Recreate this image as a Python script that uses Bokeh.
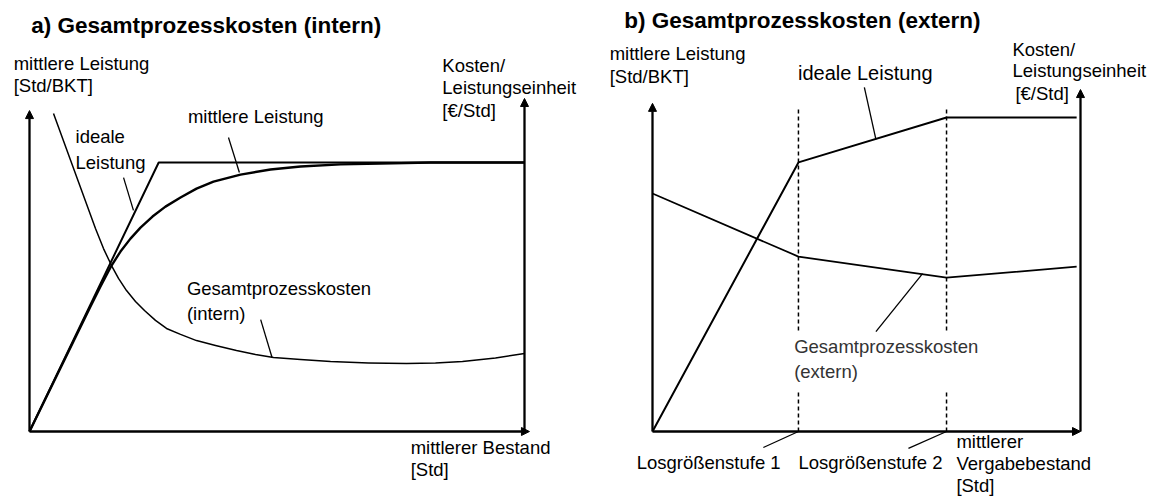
from bokeh.plotting import figure
from bokeh.layouts import row
from bokeh.models import Range1d, Arrow, NormalHead
from bokeh.core.properties import value
from bokeh.embed import file_html
from bokeh.resources import INLINE

FONT = "Liberation Sans"

# ---------------- Panel a (intern), normalised units: x axis 0..100, plateau = 100
ideal_a_x = [0, 26.1, 100]
ideal_a_y = [0, 100, 100]
mean_a_x = [0, 4.24, 8.28, 12.32, 14.34, 16.57, 18.38, 20.40, 22.42, 24.85, 27.47, 30.51,
            33.74, 37.17, 42.63, 48.69, 54.75, 62.83, 70.91, 81.0, 100]
mean_a_y = [0, 16.0, 31.2, 46.5, 53.9, 61.7, 66.9, 71.7, 75.8, 79.9, 83.6, 87.0,
            90.3, 92.9, 95.5, 97.4, 98.5, 99.3, 99.6, 100, 100]
cost_a_x = [4.85, 13.33, 14.95, 16.57, 17.98, 19.60, 21.41, 23.23, 25.45, 27.68, 30.51, 33.74,
            37.58, 41.82, 45.66, 49.29, 54.75, 60.81, 68.48, 76.16, 82.02, 87.47, 94.14, 100]
cost_a_y = [118.2, 75.5, 68.0, 61.7, 56.9, 52.4, 48.3, 45.0, 41.3, 38.3, 36.1, 33.8,
            32.0, 30.1, 28.6, 27.5, 26.8, 26.0, 25.5, 25.3, 25.5, 26.0, 27.3, 29.0]
lead_a_xs = [[19.0, 21.0], [40.2, 42.4], [46.7, 49.0]]
lead_a_ys = [[94.4, 82.2], [109.3, 96.3], [41.6, 27.5]]
axis_a_top_left, axis_a_top_right, axis_a_end = 119.3, 123.8, 101.0
title_a = "a) Gesamtprozesskosten (intern)"
labels_a_text = ["mittlere Leistung", "[Std/BKT]", "Kosten/", "Leistungseinheit", "[€/Std]",
                 "mittlere Leistung", "ideale", "Leistung", "Gesamtprozesskosten", "(intern)",
                 "mittlerer Bestand", "[Std]"]
labels_a_x = [-3.2, -3.2, 83.4, 83.4, 83.4, 32.0, 9.3, 9.3, 31.8, 31.8, 77.0, 77.0]
labels_a_y = [136.7, 128.5, 136.1, 127.9, 119.2, 117.0, 109.6, 100.0, 53.2, 43.9, -5.9, -14.1]

# ---------------- Panel b (extern)
ideal_b_x = [0, 34.1, 68.7, 99.1]
ideal_b_y = [0, 85.7, 100, 100]
cost_b_x = [0, 34.1, 68.7, 99.1]
cost_b_y = [75.8, 55.7, 49.0, 52.5]
lot_x = [34.1, 68.7]
lot_top, lot_gap_lo, lot_gap_hi = 102.9, 13.1, 32.2
lead_b_xs = [[49.5, 52.2], [63.1, 52.2], [25.9, 34.1], [59.8, 68.7]]
lead_b_ys = [[109.6, 93.0], [50.3, 31.8], [-5.1, 0], [-5.4, 0]]
axis_b_top_left, axis_b_top_right, axis_b_end = 104.5, 108.9, 100.0
title_b = "b) Gesamtprozesskosten (extern)"
labels_b_text = ["mittlere Leistung", "[Std/BKT]", "Kosten/", "Leistungseinheit",
                 "[€/Std]", "Gesamtprozesskosten", "(extern)", "Losgrößenstufe 1", "Losgrößenstufe 2",
                 "mittlerer", "Vergabebestand", "[Std]"]
labels_b_x = [-10.0, -10.0, 84.1, 84.1, 84.8, 33.1, 33.1, -3.7, 34.1, 71.0, 71.0, 71.0]
labels_b_y = [120.5, 112.9, 121.8, 114.9, 107.8, 27.0, 19.0, -9.8, -9.8, -3.3, -10.3, -17.3]
ideal_label_b = ("ideale Leistung", 34.0, 114.3)


def make_fig(w, xr, yr):
    p = figure(width=w, height=497, x_range=Range1d(*xr), y_range=Range1d(*yr),
               output_backend="svg", toolbar_location=None,
               x_axis_location=None, y_axis_location=None, min_border=0)
    p.grid.visible = False
    p.outline_line_color = None
    p.background_fill_color = "white"
    p.border_fill_color = "white"
    return p


def arrow(p, x0, y0, x1, y1):
    p.add_layout(Arrow(end=NormalHead(size=8, fill_color="black", line_color="black", line_width=1),
                       x_start=x0, y_start=y0, x_end=x1, y_end=y1,
                       line_width=2.3, line_color="black"))


def texts(p, xs, ys, t, size="18.5px", bold=False, color="black"):
    p.text(x=xs, y=ys, text=t, text_font=value(FONT), text_font_size=size,
           text_font_style="bold" if bold else "normal", text_baseline="alphabetic",
           text_align="left", text_color=color)


# Panel a  (page x 0..578)
pa = make_fig(578, (-5.8586, 110.909), (-24.535, 160.223))
arrow(pa, 0, 0, 0, axis_a_top_left)
arrow(pa, 100, 0, 100, axis_a_top_right)
arrow(pa, 0, 0, axis_a_end, 0)
pa.line(ideal_a_x, ideal_a_y, line_width=2.0, line_color="black")
pa.line(mean_a_x, mean_a_y, line_width=2.4, line_color="black", line_join="round")
pa.line(cost_a_x, cost_a_y, line_width=1.5, line_color="black", line_join="round")
pa.multi_line(lead_a_xs, lead_a_ys, line_width=1.3, line_color="black")
texts(pa, labels_a_x, labels_a_y, labels_a_text)
texts(pa, [0.34], [150.8], [title_a], size="22.5px", bold=True)

# Panel b  (page x 578..1154)
pb = make_fig(576, (-17.290, 117.290), (-21.019, 137.261))
arrow(pb, 0, 0, 0, axis_b_top_left)
arrow(pb, 100, 0, 100, axis_b_top_right)
arrow(pb, 0, 0, axis_b_end, 0)
pb.line(ideal_b_x, ideal_b_y, line_width=2.0, line_color="black")
pb.line(cost_b_x, cost_b_y, line_width=1.7, line_color="black")
dash_xs, dash_ys = [], []
for lx in lot_x:
    dash_xs += [[lx, lx], [lx, lx]]
    dash_ys += [[0, lot_gap_lo], [lot_gap_hi, lot_top]]
pb.multi_line(dash_xs, dash_ys, line_width=1.5, line_color="black", line_dash="4 3")
pb.multi_line(lead_b_xs, lead_b_ys, line_width=1.3, line_color="black")
texts(pb, labels_b_x[:5], labels_b_y[:5], labels_b_text[:5])
texts(pb, labels_b_x[5:7], labels_b_y[5:7], labels_b_text[5:7], color="#333333")
texts(pb, labels_b_x[7:], labels_b_y[7:], labels_b_text[7:])
texts(pb, [ideal_label_b[1]], [ideal_label_b[2]], [ideal_label_b[0]], size="20px")
texts(pb, [-6.6], [131.0], [title_b], size="22.5px", bold=True)

layout = row(pa, pb)
open("out.html", "w").write(file_html(layout, INLINE))
